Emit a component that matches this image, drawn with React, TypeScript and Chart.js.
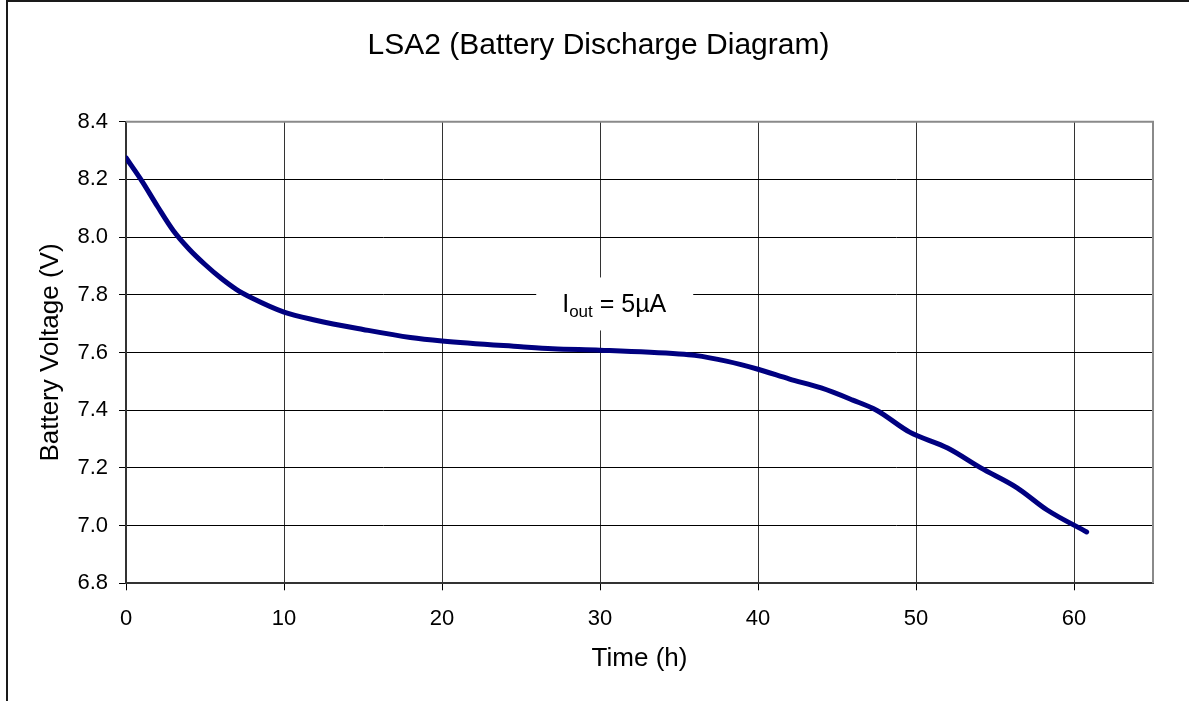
import { useEffect, useRef } from "react";
import { Chart, registerables } from "chart.js";

Chart.register(...registerables);

const TITLE = "LSA2 (Battery Discharge Diagram)";
const X_TITLE = "Time (h)";
const Y_TITLE = "Battery Voltage (V)";

const timeHours = [
  0, 1, 2, 3, 4, 5, 6, 7, 8, 10, 12, 15, 18, 20, 25, 27, 30, 35, 36, 38, 40, 42, 44, 46, 47.5,
  49.6, 52, 54.1, 56.4, 58.3, 60.8,
];
const batteryVolts = [
  8.275, 8.195, 8.106, 8.022, 7.958, 7.905, 7.858, 7.818, 7.788, 7.74, 7.712, 7.68, 7.652, 7.64,
  7.62, 7.613, 7.608, 7.595, 7.59, 7.57, 7.542, 7.508, 7.477, 7.435, 7.4, 7.324, 7.269, 7.2, 7.131,
  7.054, 6.978,
];

const X_MIN = 0;
const X_MAX = 65;
const X_STEP = 10;
const Y_MIN = 6.8;
const Y_MAX = 8.4;
const Y_STEP = 0.2;

const NOTE_MAIN = "I";
const NOTE_SUB = "out";
const NOTE_REST = " = 5µA";
const NOTE_X = 30.9;
const NOTE_Y = 7.77;

const FONT = "'Liberation Sans', Arial, Helvetica, sans-serif";

const decorPlugin = {
  id: "decor",
  beforeDraw(chart: any) {
    const ctx = chart.ctx;
    ctx.save();
    ctx.fillStyle = "#ffffff";
    ctx.fillRect(0, 0, chart.width, chart.height);
    ctx.strokeStyle = "#1a1a1a";
    ctx.lineWidth = 2;
    ctx.beginPath();
    ctx.moveTo(7, chart.height + 10);
    ctx.lineTo(7, 1);
    ctx.lineTo(chart.width + 10, 1);
    ctx.stroke();
    // chart title, centred on the whole picture
    ctx.fillStyle = "#000000";
    ctx.font = `30px ${FONT}`;
    ctx.textAlign = "center";
    ctx.textBaseline = "middle";
    ctx.fillText(TITLE, 598.5, 45.6);
    ctx.restore();
  },
  beforeDatasetsDraw(chart: any) {
    const ctx = chart.ctx;
    const { left, top, right, bottom } = chart.chartArea;
    ctx.save();
    ctx.strokeStyle = "#8a8a8a";
    ctx.lineWidth = 2;
    ctx.beginPath();
    ctx.moveTo(left, top);
    ctx.lineTo(right, top);
    ctx.lineTo(right, bottom);
    ctx.stroke();

    // annotation
    const cx = chart.scales.x.getPixelForValue(NOTE_X);
    const cy = chart.scales.y.getPixelForValue(NOTE_Y);
    ctx.fillStyle = "#ffffff";
    ctx.fillRect(cx - 78, cy - 26, 157, 53);
    ctx.fillStyle = "#000000";
    ctx.textBaseline = "alphabetic";
    ctx.textAlign = "left";
    const mainFont = `25px ${FONT}`;
    const subFont = `17px ${FONT}`;
    ctx.font = mainFont;
    const wMain = ctx.measureText(NOTE_MAIN).width;
    const wRest = ctx.measureText(NOTE_REST).width;
    ctx.font = subFont;
    const wSub = ctx.measureText(NOTE_SUB).width;
    const total = wMain + wSub + wRest;
    let x = cx - total / 2;
    const base = cy + 9;
    ctx.font = mainFont;
    ctx.fillText(NOTE_MAIN, x, base);
    x += wMain;
    ctx.font = subFont;
    ctx.fillText(NOTE_SUB, x, base + 5);
    x += wSub;
    ctx.font = mainFont;
    ctx.fillText(NOTE_REST, x, base);
    ctx.restore();
  },
};

export default function App() {
  const ref = useRef<HTMLCanvasElement | null>(null);

  useEffect(() => {
    if (!ref.current) return;
    const points = timeHours.map((t, i) => ({ x: t, y: batteryVolts[i] }));
    const chart = new Chart(ref.current, {
      type: "line",
      data: {
        datasets: [
          {
            data: points,
            borderColor: "#000080",
            borderWidth: 5,
            pointRadius: 0,
            fill: false,
            cubicInterpolationMode: "monotone",
            borderCapStyle: "round",
            borderJoinStyle: "round",
          },
        ],
      },
      options: {
        responsive: false,
        animation: false,
        devicePixelRatio: 1,
        layout: { padding: { left: 0, right: 36, top: 121.7, bottom: 17.7 } },
        plugins: {
          legend: { display: false },
          tooltip: { enabled: false },
          title: { display: false },
        },
        scales: {
          x: {
            type: "linear",
            min: X_MIN,
            max: X_MAX,
            afterFit: (s: any) => {
              s.height = 100;
            },
            ticks: {
              stepSize: X_STEP,
              includeBounds: false,
              color: "#000000",
              font: { family: FONT, size: 22 },
              padding: 15.5,
              maxRotation: 0,
              callback: (v: any) => String(Math.round(Number(v))),
            },
            grid: {
              color: "#333333",
              lineWidth: 1,
              tickLength: 7,
              tickColor: "#000000",
              drawTicks: true,
            },
            border: { display: true, color: "#333333", width: 2 },
            title: {
              display: true,
              text: X_TITLE,
              color: "#000000",
              font: { family: FONT, size: 26, lineHeight: 1.2 },
              padding: { top: 0, bottom: 8.7 },
            },
          },
          y: {
            type: "linear",
            min: Y_MIN,
            max: Y_MAX,
            afterFit: (s: any) => {
              s.width = 126;
            },
            ticks: {
              stepSize: Y_STEP,
              color: "#000000",
              font: { family: FONT, size: 22 },
              padding: 11,
              callback: (v: any) => Number(v).toFixed(1),
            },
            grid: {
              color: "#000000",
              lineWidth: 1,
              tickLength: 7,
              tickColor: "#000000",
              drawTicks: true,
            },
            border: { display: true, color: "#333333", width: 2 },
            title: {
              display: true,
              text: Y_TITLE,
              color: "#000000",
              font: { family: FONT, size: 26, lineHeight: 1.2 },
              padding: { top: 35, bottom: 0 },
            },
          },
        },
      },
      plugins: [decorPlugin],
    } as any);
    return () => chart.destroy();
  }, []);

  return (
    <div
      style={{
        position: "fixed",
        left: 0,
        top: 0,
        width: 1189,
        height: 701,
        background: "#ffffff",
        overflow: "hidden",
      }}
    >
      <canvas ref={ref} width={1189} height={701} style={{ display: "block" }} />
    </div>
  );
}
